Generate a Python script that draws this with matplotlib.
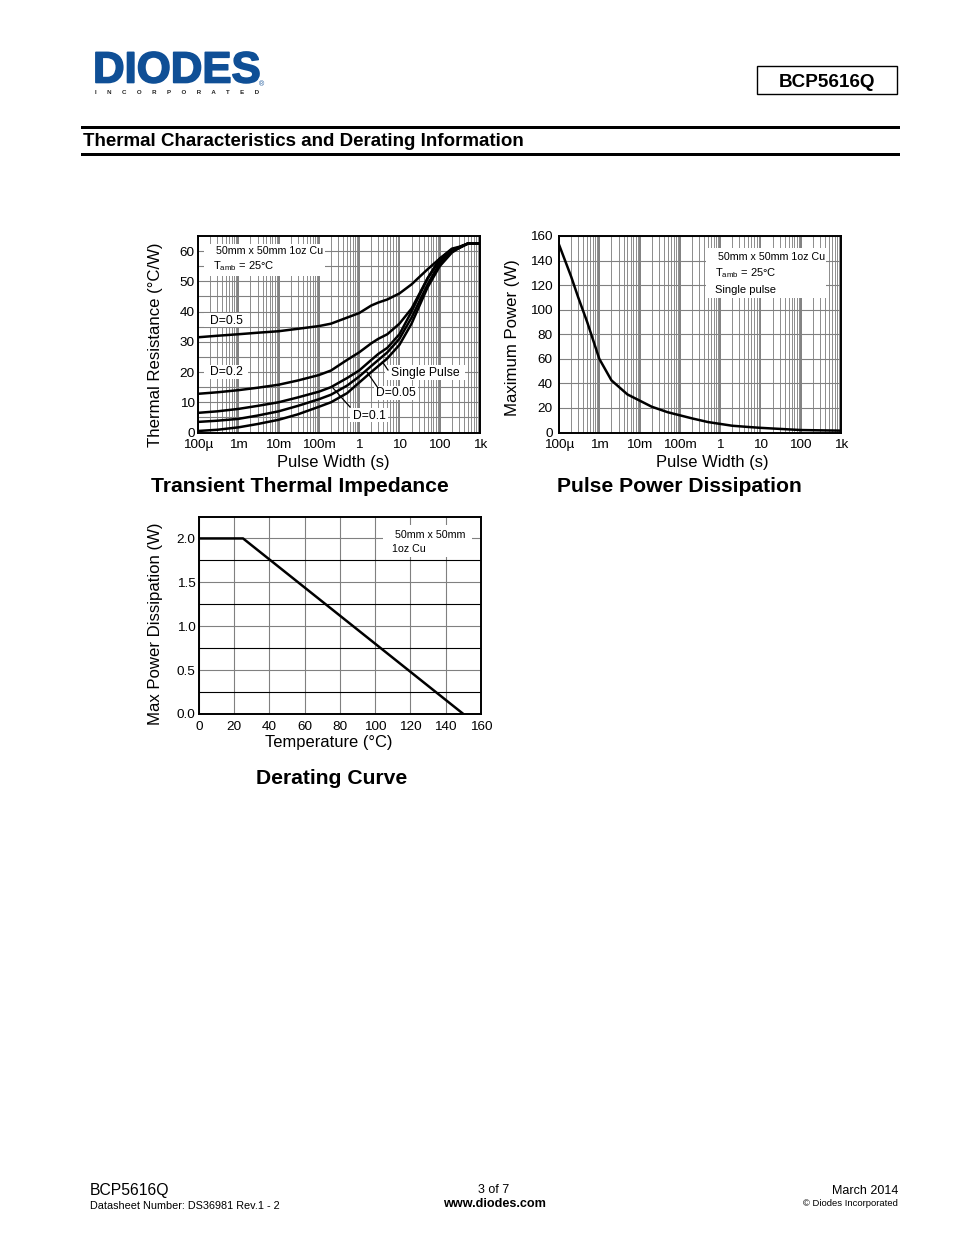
import matplotlib
matplotlib.use("Agg")
import matplotlib.pyplot as plt
import matplotlib.patheffects as pe
from matplotlib.patches import Rectangle
from matplotlib.ticker import FixedLocator, NullFormatter

plt.rcParams['font.family'] = ['Liberation Sans', 'DejaVu Sans']
plt.rcParams['mathtext.fontset'] = 'custom'
plt.rcParams['mathtext.rm'] = 'Liberation Sans'

W, H = 954, 1235

# ---- data ----
decade_ticks = [1e-4, 1e-3, 1e-2, 1e-1, 1, 10, 100, 1000]
decade_labels = ['100µ', '1m', '10m', '100m', '1', '10', '100', '1k']

t_x = [1e-4, 3e-4, 1e-3, 3e-3, 1e-2, 3e-2, 1e-1, 2e-1, 5e-1, 1, 2, 3, 5, 10, 20, 50, 100, 200, 300, 500, 1000]
z_single = [0.5, 0.9, 1.7, 2.8, 4.2, 6.0, 8.5, 10, 13, 16.5, 20, 22, 24.5, 29, 36, 48, 55, 59.5, 61, 62.5, 62.5]
z_d005 = [3.5, 3.9, 4.5, 5.6, 7.0, 8.8, 11, 12.5, 15.5, 18.5, 22, 24, 26.5, 31, 38, 49, 56, 60, 61, 62.5, 62.5]
z_d01 = [6.5, 7.0, 7.8, 8.8, 10, 11.6, 13.5, 15, 18, 20.5, 24, 26, 28, 32.5, 40, 51, 57, 60.5, 61.2, 62.5, 62.5]
z_d02 = [12.8, 13.3, 14, 14.8, 15.8, 17.2, 19, 20.5, 24, 26.5, 29.5, 31, 32.5, 36, 41, 51, 57.5, 60.8, 61.4, 62.5, 62.5]
z_d05 = [31.5, 32, 32.5, 33, 33.5, 34.3, 35.2, 36, 38, 39.5, 42, 43, 44, 46, 49, 54, 57.5, 60.5, 61.2, 62.5, 62.5]
z_series = [z_single, z_d005, z_d01, z_d02, z_d05]

p_x = [1e-4, 2e-4, 3e-4, 5e-4, 1e-3, 2e-3, 5e-3, 1e-2, 2e-2, 5e-2, 1e-1, 2e-1, 5e-1, 1, 2, 5, 10, 100, 1000]
p_y = [153, 127, 110, 90, 60, 42.5, 31, 26, 21, 16.5, 14, 11.5, 8.5, 7, 5.5, 4.5, 3.8, 2, 1.5]

d_x = [0, 25, 150]
d_y = [2.0, 2.0, 0.0]

BLUE = '#0f4f96'
GRID = '#808080'
MINOR = '#8c8c8c'

fig = plt.figure(figsize=(W / 100, H / 100), dpi=100, facecolor='white')


def fx(x):
    return x / W


def fy(y):
    return 1 - y / H


def page_text(x, y, s, **kw):
    kw.setdefault('va', 'center')
    kw.setdefault('color', 'black')
    return fig.text(fx(x), fy(y), s, **kw)


def make_axes(l, r, t, b, ypad=2.5):
    ax = fig.add_axes([fx(l), fy(b), (r - l) / W, (b - t) / H])
    for s in ax.spines.values():
        s.set_linewidth(1.4)
        s.set_color('black')
        s.set_zorder(6)
    ax.set_axisbelow(True)
    ax.tick_params(which='both', length=0, labelsize=9.7, pad=5)
    ax.tick_params(axis='y', which='both', pad=ypad)
    return ax


def white_box(ax, l, r, t, b):
    ax.add_patch(Rectangle((fx(l), fy(b)), (r - l) / W, (b - t) / H, transform=fig.transFigure,
                           facecolor='white', edgecolor='none', zorder=2, clip_on=False))


def log_axes(ax):
    ax.set_xscale('log')
    ax.set_xlim(1e-4, 1e3)
    ax.set_xticks(decade_ticks)
    ax.set_xticklabels(decade_labels)
    ax.xaxis.set_minor_locator(FixedLocator([m * d for d in decade_ticks[:-1] for m in range(2, 10)]))
    ax.xaxis.set_minor_formatter(NullFormatter())
    ax.grid(True, which='major', axis='x', color=GRID, lw=1.4)
    ax.grid(True, which='minor', axis='x', color=MINOR, lw=0.7)


# ---- header ----
logo = page_text(93, 71, 'DIODES', fontsize=31.5, fontweight='bold', color=BLUE, ha='left')
logo.set_path_effects([pe.withStroke(linewidth=1.2, foreground=BLUE)])
page_text(95, 93, 'I      N      C      O      R      P      O      R      A      T      E      D', fontsize=4.4,
          fontweight='bold', color='#222222', ha='left')
page_text(259, 85, '®', fontsize=5, color=BLUE, ha='left')

fig.add_artist(Rectangle((fx(757), fy(94)), 140 / W, 28 / H, transform=fig.transFigure,
                         facecolor='white', edgecolor='black', lw=1))
page_text(827, 82.5, 'BCP5616Q', fontsize=13.6, fontweight='bold', ha='center')

fig.add_artist(Rectangle((fx(81), fy(129)), 819 / W, 3 / H, transform=fig.transFigure, facecolor='black', edgecolor='none'))
fig.add_artist(Rectangle((fx(81), fy(156)), 819 / W, 3 / H, transform=fig.transFigure, facecolor='black', edgecolor='none'))
page_text(83, 142, 'Thermal Characteristics and Derating Information', fontsize=13.5, fontweight='bold', ha='left')

# ---- transient thermal impedance ----
ax1 = make_axes(198, 480, 236, 432.5)
log_axes(ax1)
ax1.set_ylim(0, 65)
ax1.set_yticks(range(0, 61, 10))
ax1.yaxis.set_minor_locator(FixedLocator(range(5, 65, 10)))
ax1.grid(True, which='both', axis='y', color=GRID, lw=0.8)
for s in z_series:
    ax1.plot(t_x, s, color='black', lw=1.8, zorder=4, solid_joinstyle='round')

white_box(ax1, 204, 325, 244, 276)
white_box(ax1, 204, 248, 313, 327)
white_box(ax1, 204, 248, 365, 379)
white_box(ax1, 385, 465, 365, 380)
white_box(ax1, 374, 418, 386, 400)
white_box(ax1, 350, 388, 408, 422)
page_text(216, 251, '50mm x 50mm 1oz Cu', fontsize=7.7, ha='left', zorder=8)
page_text(213, 266, r'T$_{\mathrm{amb}}$ = 25°C', fontsize=8, ha='left', zorder=8)
page_text(210, 320.5, 'D=0.5', fontsize=8.7, ha='left', zorder=8)
page_text(210, 372, 'D=0.2', fontsize=8.7, ha='left', zorder=8)
page_text(391, 373, 'Single Pulse', fontsize=8.8, ha='left', zorder=8)
page_text(376, 393.5, 'D=0.05', fontsize=8.7, ha='left', zorder=8)
page_text(353, 415.5, 'D=0.1', fontsize=8.7, ha='left', zorder=8)
for x0, y0, x1, y1 in [(382.5, 362, 388, 370), (367, 372, 378, 388), (333, 388, 350, 407)]:
    fig.add_artist(plt.Line2D([fx(x0), fx(x1)], [fy(y0), fy(y1)], color='black', lw=0.9, zorder=8))

page_text(155.5, 345, 'Thermal Resistance (°C/W)', fontsize=12.1, rotation=90, ha='center')
page_text(333, 463, 'Pulse Width (s)', fontsize=11.9, ha='center')
page_text(300, 486, 'Transient Thermal Impedance', fontsize=15.2, fontweight='bold', ha='center')

# ---- pulse power dissipation ----
ax2 = make_axes(559, 841, 236, 432.5, ypad=4.5)
log_axes(ax2)
ax2.set_ylim(0, 160)
ax2.set_yticks(range(0, 161, 20))
ax2.grid(True, which='major', axis='y', color=GRID, lw=0.8)
ax2.plot(p_x, p_y, color='black', lw=1.8, zorder=4)
white_box(ax2, 706, 826, 248, 298)
page_text(718, 257.5, '50mm x 50mm 1oz Cu', fontsize=7.7, ha='left', zorder=8)
page_text(715, 273, r'T$_{\mathrm{amb}}$ = 25°C', fontsize=8, ha='left', zorder=8)
page_text(715, 290, 'Single pulse', fontsize=8, ha='left', zorder=8)
page_text(513, 338, 'Maximum Power (W)', fontsize=12.1, rotation=90, ha='center')
page_text(712, 463, 'Pulse Width (s)', fontsize=11.9, ha='center')
page_text(679, 487, 'Pulse Power Dissipation', fontsize=15.2, fontweight='bold', ha='center')

# ---- derating curve ----
ax3 = make_axes(199, 481, 516.5, 714)
ax3.set_xlim(0, 160)
ax3.set_ylim(0, 2.25)
ax3.set_xticks(range(0, 161, 20))
ax3.set_yticks([0, 0.5, 1.0, 1.5, 2.0])
ax3.set_yticklabels(['0.0', '0.5', '1.0', '1.5', '2.0'])
ax3.yaxis.set_minor_locator(FixedLocator([0.25, 0.75, 1.25, 1.75]))
ax3.grid(True, which='major', axis='both', color=GRID, lw=0.8)
ax3.grid(True, which='minor', axis='y', color='black', lw=0.8)
ax3.plot(d_x, d_y, color='black', lw=1.8, zorder=4)
white_box(ax3, 383, 472, 525, 557)
page_text(395, 534.5, '50mm x 50mm', fontsize=7.7, ha='left', zorder=8)
page_text(392, 549.5, '1oz Cu', fontsize=7.7, ha='left', zorder=8)
page_text(156, 624, 'Max Power Dissipation (W)', fontsize=12.1, rotation=90, ha='center')
page_text(329, 742, 'Temperature (°C)', fontsize=11.9, ha='center')
page_text(332, 778, 'Derating Curve', fontsize=15.2, fontweight='bold', ha='center')

# ---- footer ----
page_text(90, 1191, 'BCP5616Q', fontsize=11.3, ha='left')
page_text(90, 1206, 'Datasheet Number: DS36981 Rev.1 - 2', fontsize=7.8, ha='left')
page_text(494, 1190, '3 of 7', fontsize=9, ha='center')
page_text(494, 1204, 'www.diodes.com', fontsize=9.1, fontweight='bold', ha='center')
page_text(898, 1191, 'March 2014', fontsize=9, ha='right')
page_text(898, 1204, '© Diodes Incorporated', fontsize=6.8, ha='right')

fig.savefig('out.png', dpi=100)
